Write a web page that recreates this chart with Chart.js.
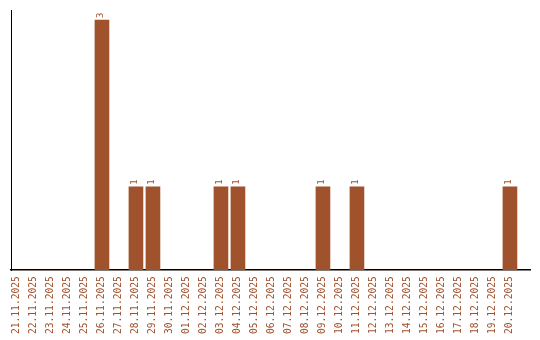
<!DOCTYPE html>
<html>
<head>
<meta charset="utf-8">
<script src="https://cdn.jsdelivr.net/npm/chart.js@4/dist/chart.umd.min.js"></script>
<style>
  body { margin: 0; background: #fff; }
  #wrap { width: 540px; height: 340px; }
</style>
</head>
<body>
<div id="wrap"><canvas id="chart" width="540" height="340"></canvas></div>
<script>
const days = [
  '21.11.2025', '22.11.2025', '23.11.2025', '24.11.2025', '25.11.2025',
  '26.11.2025', '27.11.2025', '28.11.2025', '29.11.2025', '30.11.2025',
  '01.12.2025', '02.12.2025', '03.12.2025', '04.12.2025', '05.12.2025',
  '06.12.2025', '07.12.2025', '08.12.2025', '09.12.2025', '10.12.2025',
  '11.12.2025', '12.12.2025', '13.12.2025', '14.12.2025', '15.12.2025',
  '16.12.2025', '17.12.2025', '18.12.2025', '19.12.2025', '20.12.2025'
];
const counts = [
  0, 0, 0, 0, 0,
  3, 0, 1, 1, 0,
  0, 0, 1, 1, 0,
  0, 0, 0, 1, 0,
  1, 0, 0, 0, 0,
  0, 0, 0, 0, 1
];

const brown = '#a0522d';
const mono = '"DejaVu Sans Mono", monospace';

// value labels above bars, rotated like the tick labels
const valueLabels = {
  id: 'valueLabels',
  afterDatasetsDraw(chart) {
    const ctx = chart.ctx;
    const meta = chart.getDatasetMeta(0);
    ctx.save();
    ctx.fillStyle = brown;
    ctx.font = '9px ' + mono;
    ctx.textAlign = 'left';
    ctx.textBaseline = 'middle';
    meta.data.forEach((bar, i) => {
      if (!counts[i]) return;
      ctx.save();
      ctx.translate(bar.x - 1, bar.y - 2);
      ctx.rotate(-Math.PI / 2);
      ctx.fillText(String(counts[i]), 0, 0);
      ctx.restore();
    });
    ctx.restore();
  }
};

new Chart(document.getElementById('chart'), {
  type: 'bar',
  data: {
    datasets: [{
      data: counts.map((v, i) => ({ x: i, y: v })),
      backgroundColor: brown,
      borderWidth: 0,
      barThickness: 14
    }]
  },
  options: {
    responsive: false,
    animation: false,
    layout: { padding: { left: 3, right: 10, top: 10, bottom: 0 } },
    plugins: { legend: { display: false }, tooltip: { enabled: false } },
    scales: {
      x: {
        type: 'linear',
        offset: false,
        min: -0.35,
        max: 30.18,
        grid: { display: false, drawTicks: false },
        border: { color: '#000', width: 1.5 },
        afterBuildTicks(axis) {
          axis.ticks = days.map((d, i) => ({ value: i }));
        },
        ticks: {
          color: brown,
          font: { family: mono, size: 9.6 },
          minRotation: 90,
          maxRotation: 90,
          autoSkip: false,
          padding: 6,
          callback: (v) => days[v]
        }
      },
      y: {
        min: 0,
        max: 3.12,
        grid: { display: false },
        border: { color: '#000', width: 1 },
        ticks: { display: false }
      }
    }
  },
  plugins: [valueLabels]
});
</script>
</body>
</html>
